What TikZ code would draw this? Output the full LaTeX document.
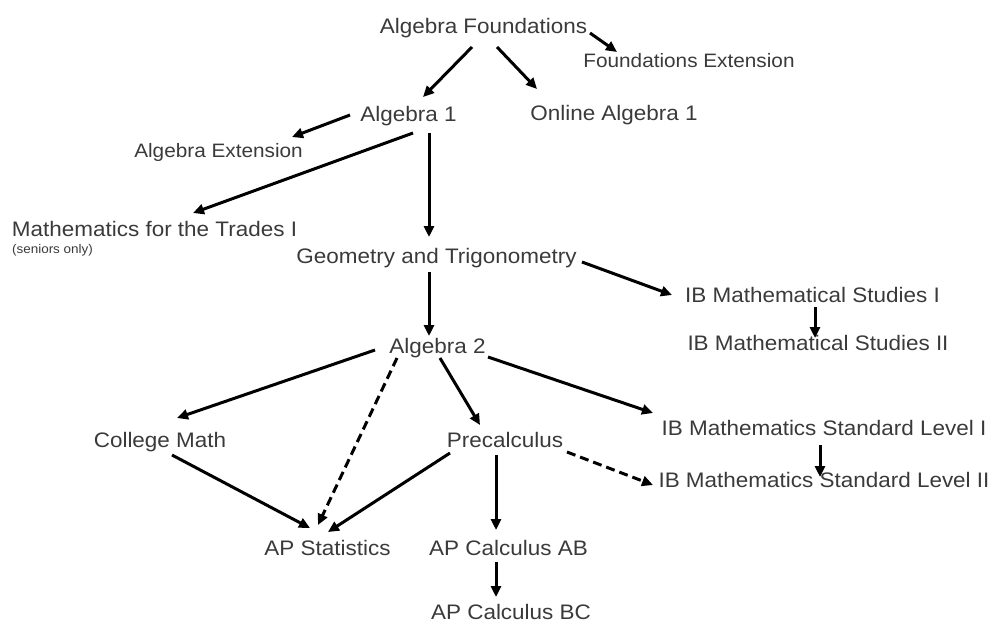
\documentclass[tikz,border=0pt]{standalone}
\usepackage{fontspec}
\setmainfont{Liberation Sans}[FakeStretch=1.07]
\usepackage{tikz}
\usepackage{xcolor}
\usetikzlibrary{arrows.meta}

\definecolor{coursegray}{HTML}{3A3A3A}

\begin{document}
\begin{tikzpicture}[x=1pt,y=-1pt,
    course/.style={anchor=base, inner sep=0pt, text=coursegray, font=\fontsize{21}{25}\selectfont},
    extra/.style={course, font=\fontsize{19.4}{23}\selectfont},
    note/.style={course, font=\fontsize{12.6}{15}\selectfont},
    prereq/.style={line width=3pt, -{Triangle[length=11pt,width=10pt]}},
    optional/.style={prereq, dash pattern=on 9pt off 5pt}]

    \useasboundingbox (0,0) rectangle (995,622);

    % first year
    \node[course] (found) at (483.5,33) {Algebra Foundations};
    \node[extra]  (fext)  at (689,67) {Foundations Extension};
    \node[course] (alg1)  at (408.5,121) {Algebra 1};
    \node[course] (onl1)  at (614,120) {Online Algebra 1};
    \node[extra]  (aext)  at (218.5,157) {Algebra Extension};

    % trades and geometry
    \node[course] (trades) at (154.5,236) {Mathematics for the Trades I};
    \node[note]   (senior) at (52.5,253) {(seniors only)};
    \node[course] (geo)    at (436.5,263) {Geometry and Trigonometry};
    \node[course] (ibms1)  at (812.5,302) {IB Mathematical Studies I};
    \node[course] (ibms2)  at (818,350) {IB Mathematical Studies II};
    \node[course] (alg2)   at (437.5,353) {Algebra 2};

    % upper level
    \node[course] (college) at (160,447) {College Math};
    \node[course] (precalc) at (505,447) {Precalculus};
    \node[course] (ibsl1)   at (824,435) {IB Mathematics Standard Level I};
    \node[course] (ibsl2)   at (824,487) {IB Mathematics Standard Level II};
    \node[course] (stats)   at (327.5,555) {AP Statistics};
    \node[course] (calcab)  at (508.5,555) {AP Calculus AB};
    \node[course] (calcbc)  at (511,619) {AP Calculus BC};

    % prerequisite arrows
    \draw[prereq] ([shift={(106.5,0)}]found.base) -- ([shift={(-72,-15)}]fext.base);
    \draw[prereq] ([shift={(-11.5,14)}]found.base) -- ([shift={(14.5,-24)}]alg1.base);
    \draw[prereq] ([shift={(13.5,14)}]found.base) -- ([shift={(-77,-31)}]onl1.base);
    \draw[prereq] ([shift={(-58.5,-6)}]alg1.base) -- ([shift={(73.5,-20)}]aext.base);
    \draw[prereq] ([shift={(4.5,12)}]alg1.base) -- ([shift={(38.5,-23)}]trades.base);
    \draw[prereq] ([shift={(20.5,12)}]alg1.base) -- ([shift={(-7.5,-26)}]geo.base);
    \draw[prereq] ([shift={(145.5,-1)}]geo.base) -- ([shift={(-140.5,-7)}]ibms1.base);
    \draw[prereq] ([shift={(2.5,5)}]ibms1.base) -- ([shift={(-3,-12)}]ibms2.base);
    \draw[prereq] ([shift={(-7.5,9)}]geo.base) -- ([shift={(-8.5,-17)}]alg2.base);
    \draw[prereq] ([shift={(-62.5,-3)}]alg2.base) -- ([shift={(17,-29)}]college.base);
    \draw[prereq] ([shift={(2.5,5)}]alg2.base) -- ([shift={(-25,-22)}]precalc.base);
    \draw[prereq] ([shift={(50.5,4)}]alg2.base) -- ([shift={(-171,-22)}]ibsl1.base);
    \draw[prereq] ([shift={(12,8)}]college.base) -- ([shift={(-17.5,-27)}]stats.base);
    \draw[prereq] ([shift={(-55,6)}]precalc.base) -- ([shift={(0.5,-23)}]stats.base);
    \draw[prereq] ([shift={(-9,8)}]precalc.base) -- ([shift={(-12.5,-25)}]calcab.base);
    \draw[prereq] ([shift={(-4,10)}]ibsl1.base) -- ([shift={(-4,-10)}]ibsl2.base);
    \draw[prereq] ([shift={(-12.5,7)}]calcab.base) -- ([shift={(-15,-22)}]calcbc.base);

    % recommended but not required
    \draw[optional] ([shift={(-40.5,5)}]alg2.base) -- ([shift={(-9.5,-30)}]stats.base);
    \draw[optional] ([shift={(62,5)}]precalc.base) -- ([shift={(-171,-2)}]ibsl2.base);

\end{tikzpicture}
\end{document}
